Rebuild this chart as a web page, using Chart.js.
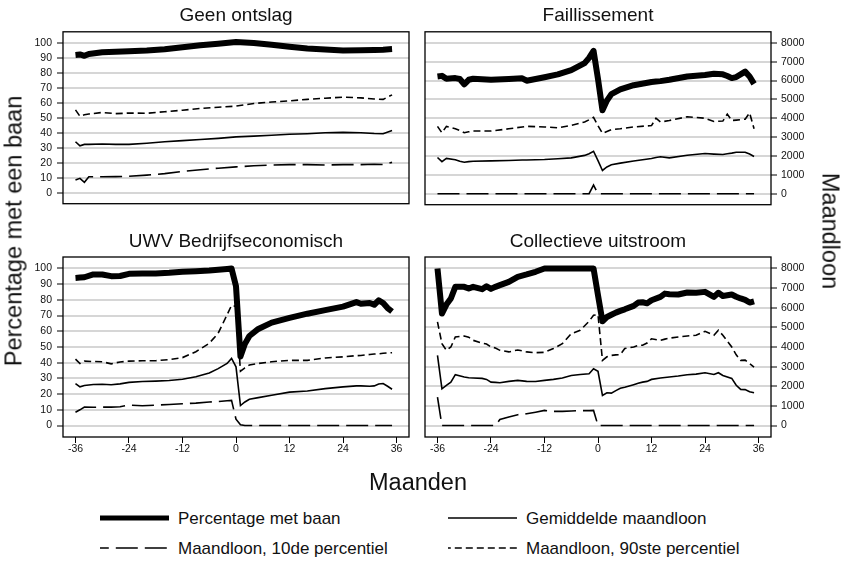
<!DOCTYPE html>
<html>
<head>
<meta charset="utf-8">
<script src="https://cdn.jsdelivr.net/npm/chart.js@4.4.1/dist/chart.umd.min.js"></script>
<style>
  body { margin: 0; background: #fff; width: 842px; height: 570px; position: relative; overflow: hidden;
         font-family: "Liberation Sans", Arial, sans-serif; color: #111; }
  canvas { position: absolute; }
  .axtitle { position: absolute; font-size: 23.5px; white-space: nowrap; }
</style>
</head>
<body>
<canvas id="geen" width="421" height="215" style="left:0;top:0"></canvas>
<canvas id="fail" width="421" height="215" style="left:421px;top:0"></canvas>
<canvas id="uwv" width="421" height="255" style="left:0;top:215px"></canvas>
<canvas id="coll" width="421" height="255" style="left:421px;top:215px"></canvas>

<div class="axtitle" style="left:14px;top:231px;transform:translate(-50%,-50%) rotate(-90deg)">Percentage met een baan</div>
<div class="axtitle" style="left:830px;top:231px;transform:translate(-50%,-50%) rotate(90deg)">Maandloon</div>
<div class="axtitle" style="left:418px;top:482px;transform:translate(-50%,-50%)">Maanden</div>

<svg id="legend" width="842" height="70" style="position:absolute;left:0;top:500px"></svg>

<script>
const FONT = '"Liberation Sans", Arial, sans-serif';

// tick values
const monthTicks = [-36, -24, -12, 0, 12, 24, 36];
const pctTicks = [0, 10, 20, 30, 40, 50, 60, 70, 80, 90, 100];
const wageTicks = [0, 1000, 2000, 3000, 4000, 5000, 6000, 7000, 8000];

// Geen ontslag
const geenMonths = [-36, -35, -34, -33, -30, -27, -24, -20, -16, -12, -8, -4, 0, 4, 8, 12, 16, 20, 24, 28, 31, 33, 35];
const geenPct  = [91.9, 92.2, 91.3, 92.5, 93.6, 94.0, 94.3, 94.8, 95.7, 97.0, 98.3, 99.3, 100.5, 99.8, 98.6, 97.3, 96.2, 95.5, 94.9, 95.0, 95.2, 95.4, 95.8];
const geenMean = [2720, 2500, 2580, 2580, 2600, 2580, 2580, 2640, 2720, 2780, 2840, 2900, 2980, 3020, 3070, 3120, 3150, 3200, 3220, 3200, 3160, 3150, 3320];
const geenP10  = [680, 770, 560, 850, 850, 860, 880, 940, 1020, 1140, 1230, 1310, 1380, 1440, 1480, 1500, 1500, 1480, 1500, 1500, 1520, 1510, 1620];
const geenP90  = [4420, 4080, 4160, 4200, 4280, 4220, 4250, 4240, 4320, 4400, 4500, 4560, 4620, 4760, 4840, 4900, 4980, 5040, 5100, 5060, 5000, 4980, 5220];

// Faillissement
const failMonths = [-36, -35, -34, -32, -31, -30, -29, -28, -24, -20, -17, -16, -12, -9, -6, -3, -2, -1, 0, 1, 2, 3, 5, 8, 12, 13, 14, 16, 20, 24, 26, 28, 29, 30, 31, 33, 34, 35];
const failPct  = [77.7, 78.1, 76.2, 76.6, 76.0, 72.5, 75.5, 76.2, 75.5, 76.0, 76.5, 74.9, 77.2, 79.1, 81.9, 86.5, 90.0, 94.7, 76.0, 55.3, 61.7, 66.0, 69.1, 71.9, 74.0, 74.3, 74.6, 75.5, 77.7, 78.7, 79.5, 79.1, 78.0, 76.6, 77.3, 80.9, 77.7, 72.8];
const failMean = [1920, 1700, 1870, 1800, 1720, 1670, 1700, 1720, 1740, 1760, 1790, 1790, 1810, 1850, 1900, 2030, 2120, 2250, 1750, 1230, 1420, 1530, 1620, 1730, 1870, 1920, 1960, 1900, 2040, 2130, 2100, 2080, 2120, 2150, 2200, 2200, 2100, 1970];
const failP10  = [0, 0, 0, 0, 0, 0, 0, 0, 0, 0, 0, 0, 0, 0, 0, 0, 0, 460, 0, 0, 0, 0, 0, 0, 0, 0, 0, 0, 0, 0, 0, 0, 0, 0, 0, 0, 0, 0];
const failP90  = [3570, 3230, 3570, 3440, 3350, 3230, 3280, 3320, 3320, 3440, 3540, 3570, 3540, 3490, 3620, 3800, 3920, 4050, 3600, 3200, 3300, 3400, 3440, 3540, 3610, 4000, 3800, 3880, 4080, 4000, 3830, 3850, 4220, 3880, 3900, 3950, 4290, 3440];

// UWV Bedrijfseconomisch
const uwvMonths = [-36, -35, -34, -32, -30, -28, -26, -24, -21, -18, -15, -12, -9, -6, -4, -2, -1, 0, 1, 2, 3, 5, 8, 12, 16, 20, 24, 27, 28, 30, 31, 32, 33, 34, 35];
const uwvPct  = [94.0, 94.2, 94.4, 96.2, 96.2, 95.1, 95.2, 96.6, 96.8, 96.8, 97.2, 97.9, 98.3, 98.7, 99.2, 99.7, 100.0, 88.7, 44.0, 52.0, 57.0, 61.5, 65.5, 68.5, 71.2, 73.5, 75.7, 78.6, 77.5, 78.0, 76.9, 79.7, 78.0, 74.8, 72.6];
const uwvMean = [2140, 1970, 2040, 2090, 2100, 2080, 2120, 2200, 2240, 2260, 2290, 2360, 2480, 2680, 2900, 3160, 3420, 2990, 1020, 1200, 1340, 1420, 1540, 1700, 1760, 1880, 1970, 2020, 2020, 2000, 2020, 2120, 2140, 2000, 1850];
const uwvP10  = [680, 800, 940, 930, 940, 940, 960, 1040, 1010, 1040, 1070, 1110, 1140, 1200, 1220, 1260, 1280, 320, 40, 0, 0, 0, 0, 0, 0, 0, 0, 0, 0, 0, 0, 0, 0, 0, 0];
const uwvP90  = [3380, 3160, 3280, 3260, 3250, 3140, 3240, 3280, 3300, 3300, 3360, 3460, 3760, 4190, 4700, 5640, 6120, 6070, 2770, 2940, 3080, 3160, 3250, 3320, 3320, 3440, 3500, 3560, 3570, 3620, 3640, 3650, 3680, 3700, 3710];

// Collectieve uitstroom
const collMonths = [-36, -35, -34, -33, -32, -30, -29, -28, -26, -25, -24, -23, -22, -20, -18, -16, -14, -12, -10, -8, -6, -4, -2, -1, 0, 1, 2, 3, 4, 5, 6, 8, 9, 10, 11, 12, 14, 15, 16, 18, 20, 22, 24, 26, 27, 28, 30, 31, 32, 33, 34, 35];
const collPct  = [100, 71.3, 77.0, 80.9, 88.3, 88.3, 87.2, 88.3, 86.8, 88.7, 87.0, 88.3, 89.4, 91.5, 94.7, 96.2, 97.9, 100, 100, 100, 100, 100, 100, 100, 83.0, 66.4, 69.1, 70.5, 71.9, 73.0, 74.0, 76.2, 78.3, 78.5, 77.8, 79.8, 81.9, 84.0, 83.6, 83.4, 84.7, 84.5, 85.1, 81.9, 84.5, 82.5, 83.4, 82.0, 80.9, 80.0, 78.3, 79.1];
const collMean = [3570, 1870, 2050, 2210, 2590, 2470, 2430, 2420, 2400, 2350, 2210, 2200, 2180, 2250, 2300, 2250, 2240, 2300, 2350, 2420, 2550, 2600, 2640, 2890, 2760, 1530, 1670, 1650, 1780, 1900, 1950, 2080, 2150, 2210, 2250, 2350, 2420, 2450, 2470, 2520, 2590, 2620, 2690, 2600, 2690, 2550, 2400, 2050, 1840, 1830, 1720, 1670];
const collP10  = [1450, 0, 0, 0, 0, 0, 0, 0, 0, 0, 0, 0, 310, 430, 550, 600, 680, 770, 720, 720, 740, 760, 760, 770, 0, 0, 0, 0, 0, 0, 0, 0, 0, 0, 0, 0, 0, 0, 0, 0, 0, 0, 0, 0, 0, 0, 0, 0, 0, 0, 0, 0];
const collP90  = [5280, 4170, 3830, 4000, 4510, 4560, 4500, 4340, 4200, 4150, 4000, 3950, 3830, 3750, 3850, 3750, 3710, 3730, 3920, 4170, 4680, 4850, 5310, 5620, 5650, 3320, 3500, 3570, 3600, 3610, 3920, 4000, 4080, 4090, 4200, 4420, 4340, 4400, 4450, 4510, 4560, 4600, 4800, 4600, 4850, 4600, 4000, 3600, 3320, 3330, 3150, 2980];

const DASH10 = [22, 7];
const DASH90 = [7, 4];

// box round the plot area
const boxPlugin = {
  id: 'box',
  afterDraw(chart) {
    const { ctx, chartArea: a } = chart;
    ctx.save();
    ctx.strokeStyle = '#000';
    ctx.lineWidth = 1.3;
    ctx.strokeRect(a.left, a.top, a.right - a.left, a.bottom - a.top);
    ctx.restore();
  }
};

function valueTicks(list) {
  return scale => { scale.ticks = list.map(v => ({ value: v })); };
}

// only force the size of an axis that is shown
function fixWidth(w) {
  return s => { if (s.options.display) s.width = w; };
}
function fixHeight(h) {
  return s => { if (s.options.display) s.height = h; };
}

function makePanel(id, title, months, pct, mean, p10, p90, isLeft, isBottom) {
  const pts = arr => months.map((m, i) => ({ x: m, y: arr[i] }));
  const tickFont = { size: 10.5, family: FONT };
  const gridY = () => ({ display: true, drawOnChartArea: true, color: '#d6d6d6', lineWidth: 2,
                         tickColor: '#000', tickLength: 6, tickWidth: 1 });
  new Chart(document.getElementById(id), {
    type: 'line',
    data: {
      datasets: [
        { label: 'Percentage met baan', data: pts(pct), yAxisID: 'y', borderWidth: 6, borderJoinStyle: 'round' },
        { label: 'Gemiddelde maandloon', data: pts(mean), yAxisID: 'y1', borderWidth: 1.6 },
        { label: 'Maandloon, 10de percentiel', data: pts(p10), yAxisID: 'y1', borderWidth: 1.6, borderDash: DASH10 },
        { label: 'Maandloon, 90ste percentiel', data: pts(p90), yAxisID: 'y1', borderWidth: 1.6, borderDash: DASH90 }
      ]
    },
    options: {
      responsive: false,
      animation: false,
      events: [],
      elements: {
        line: { borderColor: '#000', tension: 0, fill: false },
        point: { radius: 0 }
      },
      layout: {
        padding: { left: isLeft ? 20 : 4, right: isLeft ? 12 : 26, top: 0, bottom: isBottom ? 0 : 4 }
      },
      plugins: {
        legend: { display: false },
        tooltip: { enabled: false },
        title: {
          display: true,
          fullSize: false,
          text: title,
          color: '#111',
          font: { size: 19, family: FONT, weight: 'normal' },
          padding: isBottom ? { top: 15.6, bottom: 3.6 } : { top: 4, bottom: 5 }
        }
      },
      scales: {
        x: {
          type: 'linear',
          min: -38.8,
          max: 38.8,
          display: isBottom,
          afterBuildTicks: valueTicks(monthTicks),
          afterFit: fixHeight(33),
          border: { display: false },
          grid: { drawOnChartArea: false, drawTicks: true, tickLength: 6, tickColor: '#000', tickWidth: 1 },
          ticks: { padding: 0, color: '#111', font: tickFont, maxRotation: 0, autoSkip: false, callback: v => String(v) }
        },
        y: {
          position: 'left',
          min: -7.3,
          max: 107.3,
          display: isLeft,
          afterBuildTicks: valueTicks(pctTicks),
          afterFit: fixWidth(43),
          border: { display: false },
          grid: gridY(),
          ticks: { padding: 5, color: '#111', font: tickFont, autoSkip: false, callback: v => String(v) }
        },
        y1: {
          position: 'right',
          min: -584,
          max: 8584,
          display: !isLeft,
          afterBuildTicks: valueTicks(wageTicks),
          afterFit: fixWidth(45),
          border: { display: false },
          grid: gridY(),
          ticks: { padding: 4, color: '#111', font: tickFont, autoSkip: false, callback: v => String(v) }
        }
      }
    },
    plugins: [boxPlugin]
  });
}

makePanel('geen', 'Geen ontslag', geenMonths, geenPct, geenMean, geenP10, geenP90, true, false);
makePanel('fail', 'Faillissement', failMonths, failPct, failMean, failP10, failP90, false, false);
makePanel('uwv', 'UWV Bedrijfseconomisch', uwvMonths, uwvPct, uwvMean, uwvP10, uwvP90, true, true);
makePanel('coll', 'Collectieve uitstroom', collMonths, collPct, collMean, collP10, collP90, false, true);

// shared legend below the panels
const legendItems = [
  { label: 'Percentage met baan', width: 5, dash: null, x: 100, y: 18 },
  { label: 'Gemiddelde maandloon', width: 1.5, dash: null, x: 448, y: 18 },
  { label: 'Maandloon, 10de percentiel', width: 1.6, dash: DASH10, x: 100, y: 48 },
  { label: 'Maandloon, 90ste percentiel', width: 1.6, dash: DASH90, x: 448, y: 48 }
];
const svg = document.getElementById('legend');
const NS = 'http://www.w3.org/2000/svg';
legendItems.forEach(item => {
  const line = document.createElementNS(NS, 'line');
  line.setAttribute('x1', item.x);
  line.setAttribute('x2', item.x + 69);
  line.setAttribute('y1', item.y);
  line.setAttribute('y2', item.y);
  line.setAttribute('stroke', '#000');
  line.setAttribute('stroke-width', item.width);
  if (item.dash) {
    line.setAttribute('stroke-dasharray', item.dash.join(' '));
    line.setAttribute('stroke-dashoffset', item.dash[0] * 0.6);
  }
  svg.appendChild(line);
  const text = document.createElementNS(NS, 'text');
  text.setAttribute('x', item.x + 78);
  text.setAttribute('y', item.y);
  text.setAttribute('dominant-baseline', 'central');
  text.setAttribute('font-family', 'Liberation Sans, Arial, sans-serif');
  text.setAttribute('font-size', '17');
  text.setAttribute('fill', '#111');
  text.textContent = item.label;
  svg.appendChild(text);
});
</script>
</body>
</html>
